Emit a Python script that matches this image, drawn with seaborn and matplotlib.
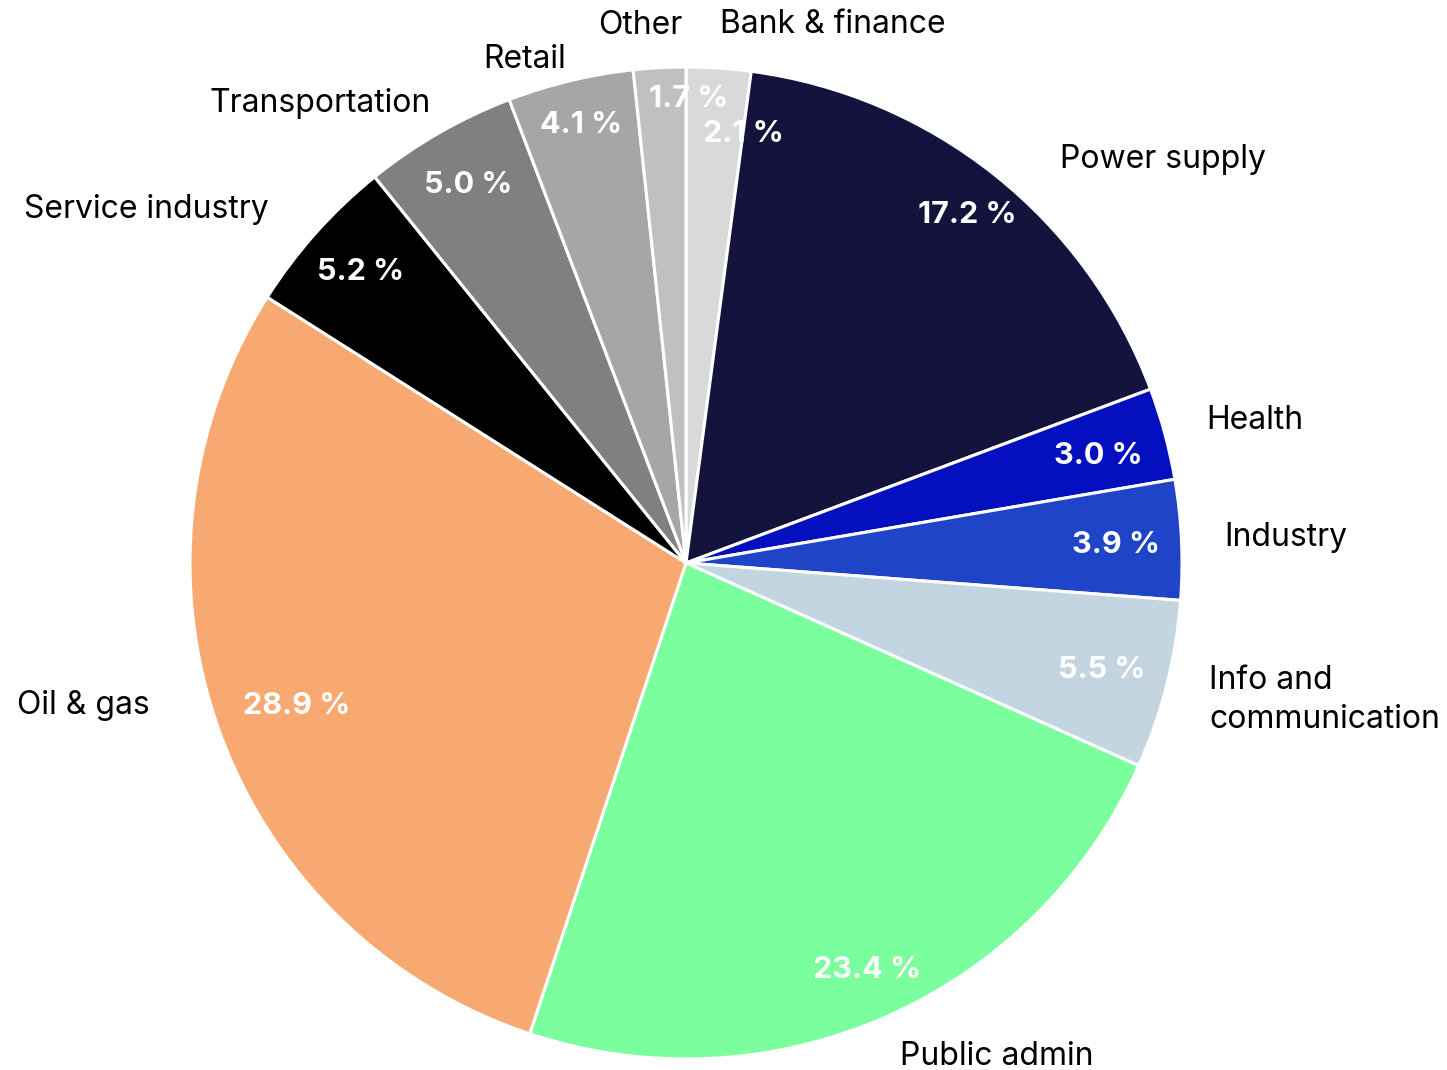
import matplotlib.pyplot as plt
import seaborn as sns

sectors = ['Bank & finance', 'Power supply', 'Health', 'Industry', 'Info and\ncommunication',
           'Public admin', 'Oil & gas', 'Service industry', 'Transportation', 'Retail', 'Other']
shares = [2.1, 17.2, 3.0, 3.9, 5.5, 23.4, 28.9, 5.2, 5.0, 4.1, 1.7]
colors = ['#d9d9d9', '#13133d', '#0410c0', '#1f44c8', '#c3d5e0',
          '#7bfe9e', '#f8a971', '#000000', '#808080', '#a6a6a6', '#c0c0c0']

# pixel nudges (x right, y down) where the reference text sits off the default radius
label_nudge = {'Bank & finance': (-2, 6), 'Power supply': (34, 23), 'Health': (-6, 0),
               'Industry': (-7, 0), 'Info and\ncommunication': (-6, 3), 'Public admin': (-6, -6),
               'Oil & gas': (-22, -41), 'Service industry': (-10, 10), 'Transportation': (17, 14),
               'Retail': (7, 27), 'Other': (25, 7)}
pct_nudge = {'1.7 %': (26, -28), '2.1 %': (29, 7), '28.9 %': (22, -4), '17.2 %': (9, -7),
             '3.0 %': (-9, 7), '23.4 %': (5, 8), '3.9 %': (-6, 3), '5.5 %': (-7, 0),
             '4.1 %': (-3, -14)}

R_PX = 496  # pie radius in pixels


def nudge(t, table):
    if t.get_text() in table:
        dx, dy = table[t.get_text()]
        x, y = t.get_position()
        t.set_position((x + dx / R_PX, y - dy / R_PX))


sns.set_theme(style='white')
plt.rcParams['font.family'] = ['Inter', 'DejaVu Sans']

fig = plt.figure(figsize=(14.47, 10.70), dpi=100)
ax = fig.add_axes([0, 0, 1, 1])

palette = sns.color_palette(colors)
wedges, texts, autotexts = ax.pie(
    shares, labels=sectors, colors=palette, startangle=90, counterclock=False,
    autopct=lambda p: f'{p:.1f} %', pctdistance=0.88, labeldistance=1.1,
    wedgeprops={'edgecolor': 'white', 'linewidth': 2.2},
    textprops={'fontsize': 23},
)

for t in autotexts:
    t.set_color('white')
    t.set_fontweight('bold')
    t.set_fontsize(22)
    nudge(t, pct_nudge)

for t in texts:
    t.set_color('black')
    t.set_linespacing(1.3)
    nudge(t, label_nudge)

ax.set_aspect('auto')
ax.set_xlim(-686 / R_PX, (1447 - 686) / R_PX)
ax.set_ylim(-(1070 - 563) / R_PX, 563 / R_PX)
ax.axis('off')

fig.savefig('out.png', dpi=100, facecolor='white')
plt.close(fig)
